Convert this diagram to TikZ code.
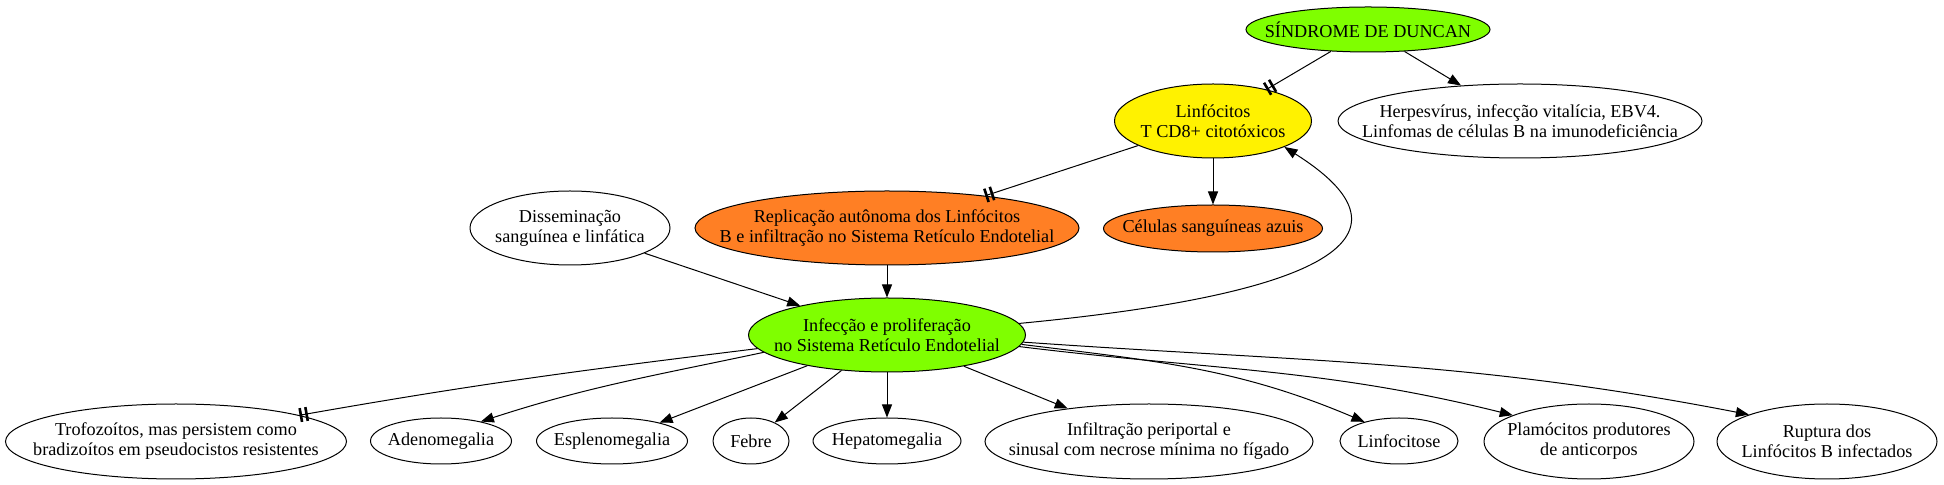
\documentclass[tikz,border=0pt]{standalone}
\usepackage{fontspec}
\setmainfont{Liberation Serif}
\usetikzlibrary{arrows.meta,shapes.geometric}
\definecolor{chartreuse}{RGB}{127,255,0}
\definecolor{chocolate}{RGB}{255,127,36}

\begin{document}
\begin{tikzpicture}[x=0.5pt,y=-0.5pt,line width=0.5pt,
    every node/.style={ellipse,draw,inner xsep=-150pt,inner ysep=0pt,align=center,
      font=\fontsize{9.1}{10}\selectfont},
    ell/.style 2 args={minimum width=#1*1pt,minimum height=#2*1pt},
    >={Triangle[length=6.5pt,width=5pt]},
    tt/.style={-{Bar[width=7pt,line width=1.3pt,sep=1.6pt]Bar[width=7pt,line width=1.3pt]}}]
      \useasboundingbox (0,0) rectangle (1944,485);

      \node[fill=chartreuse,ell={122}{22.5}] (syn) at (1368,29.5) {SÍNDROME DE DUNCAN};
      \node[fill=yellow,ell={98.5}{37}] (lt) at (1213,121) {Linfócitos\\T CD8+ citotóxicos};
      \node[ell={182}{37}] (herp) at (1520,121) {Herpesvírus, infecção vitalícia, EBV4.\\Linfomas de células B na imunodeficiência};
      \node[fill=chocolate,ell={192}{37}] (rep) at (887,228) {Replicação autônoma dos Linfócitos\\B e infiltração no Sistema Retículo Endotelial};
      \node[ell={100}{37}] (dis) at (570,228) {Disseminação\\sanguínea e linfática};
      \node[fill=chocolate,ell={109.5}{23.5}] (cel) at (1213,228.5) {Células sanguíneas azuis};
      \node[fill=chartreuse,ell={138.5}{37}] (inf) at (887,335) {Infecção e proliferação\\no Sistema Retículo Endotelial};

      \node[ell={170.5}{37.5}] (tro) at (176,441.5) {Trofozoítos, mas persistem como\\bradizoítos em pseudocistos resistentes};
      \node[ell={70.5}{23}] (ade) at (441,441) {Adenomegalia};
      \node[ell={75.5}{23}] (esp) at (612,441) {Esplenomegalia};
      \node[ell={38}{23}] (feb) at (751,441) {Febre};
      \node[ell={74}{23}] (hep) at (887,441) {Hepatomegalia};
      \node[ell={164}{37.5}] (infil) at (1149,441.5) {Infiltração periportal e\\sinusal com necrose mínima no fígado};
      \node[ell={59}{23}] (lin) at (1399,441) {Linfocitose};
      \node[ell={105}{37.5}] (pla) at (1589,441.5) {Plamócitos produtores\\de anticorpos};
      \node[ell={110}{37.5}] (rup) at (1827,441.5) {Ruptura dos\\Linfócitos B infectados};

      \draw[tt] (syn) -- (lt);
      \draw[->] (syn) -- (herp);
      \draw[tt] (lt) -- (rep);
      \draw[->] (lt) -- (cel);
      \draw[->] (dis) -- (inf);
      \draw[->] (rep) -- (inf);
      \draw[->] (inf.5) .. controls (1455,282) and (1360,195) .. (lt.340);
      \draw[tt] (inf.186) to[out=187,in=10] (tro.12);
      \draw[->] (inf.188) to[out=192,in=18] (ade.26);
      \draw[->] (inf) -- (esp);
      \draw[->] (inf) -- (feb);
      \draw[->] (inf) -- (hep);
      \draw[->] (inf) -- (infil);
      \draw[->] (inf.356) to[out=-7,in=157] (lin.151);
      \draw[->] (inf.355) to[out=-7,in=166] (pla.161);
      \draw[->] (inf.357) to[out=-4,in=169] (rup.161);
    \end{tikzpicture}
\end{document}
